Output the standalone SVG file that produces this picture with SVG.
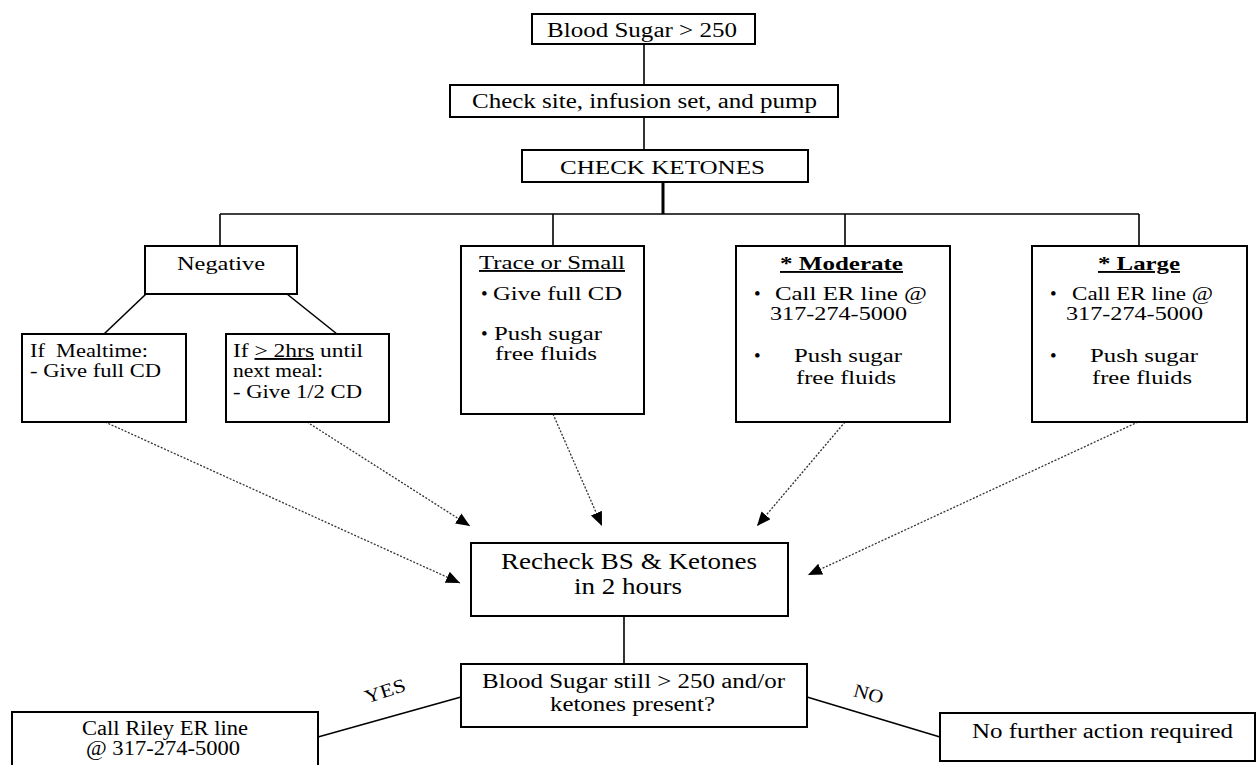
<svg xmlns="http://www.w3.org/2000/svg" width="1259" height="765" viewBox="0 0 1259 765">
<style>
  .box { fill: #ffffff; stroke: #000000; stroke-width: 2; }
  .t { font-family: "Liberation Serif", "Times New Roman", serif; fill: #000000; font-size: 20px; }
  .s { font-size: 19px; }
  .l { font-size: 23px; }
  .u { text-decoration: underline; }
  .b { font-weight: bold; }
  .solid { stroke: #000000; stroke-width: 1.6; fill: none; }
  .dot { stroke: #333333; stroke-width: 1.3; stroke-dasharray: 2 1.6; fill: none; }
</style>
<defs>
  <marker id="arr" markerUnits="userSpaceOnUse" markerWidth="16" markerHeight="14" refX="14" refY="6" orient="auto">
    <path d="M0,0 L14,6 L0,12 Z" fill="#000000"/>
  </marker>
</defs>
<rect width="1259" height="765" fill="#ffffff"/>

<g id="connectors">
  <line class="solid" x1="644" y1="44" x2="644" y2="85"/>
  <line class="solid" x1="644" y1="117" x2="644" y2="150"/>
  <line x1="663" y1="182" x2="663" y2="214" stroke="#000" stroke-width="3"/>
  <line class="solid" x1="220" y1="214" x2="1139" y2="214"/>
  <line class="solid" x1="220" y1="214" x2="220" y2="246"/>
  <line class="solid" x1="553" y1="214" x2="553" y2="246"/>
  <line class="solid" x1="845" y1="214" x2="845" y2="246"/>
  <line class="solid" x1="1139" y1="214" x2="1139" y2="246"/>
  <line class="solid" x1="146" y1="294" x2="104" y2="334"/>
  <line class="solid" x1="287" y1="294" x2="337" y2="334"/>
  <line class="dot" x1="105" y1="422" x2="460" y2="583" marker-end="url(#arr)"/>
  <line class="dot" x1="307" y1="422" x2="470" y2="526" marker-end="url(#arr)"/>
  <line class="dot" x1="553" y1="414" x2="602" y2="526" marker-end="url(#arr)"/>
  <line class="dot" x1="845" y1="422" x2="757" y2="526" marker-end="url(#arr)"/>
  <line class="dot" x1="1138" y1="422" x2="808" y2="575" marker-end="url(#arr)"/>
  <line class="solid" x1="624" y1="616" x2="624" y2="664"/>
  <line class="solid" x1="318" y1="737" x2="461" y2="697"/>
  <line class="solid" x1="807" y1="697" x2="940" y2="737"/>
  <text class="t s" transform="translate(387,697) rotate(-18)" text-anchor="middle" textLength="42" lengthAdjust="spacingAndGlyphs">YES</text>
  <text class="t s" transform="translate(867,700) rotate(15)" text-anchor="middle" textLength="30" lengthAdjust="spacingAndGlyphs">NO</text>
</g>

<g id="n-bs250">
  <rect class="box" x="532" y="14" width="223" height="30"/>
  <text class="t" x="547" y="37" textLength="190" lengthAdjust="spacingAndGlyphs">Blood Sugar &gt; 250</text>
</g>

<g id="n-checksite">
  <rect class="box" x="450" y="85" width="388" height="32"/>
  <text class="t" x="472" y="108" textLength="345" lengthAdjust="spacingAndGlyphs">Check site, infusion set, and pump</text>
</g>

<g id="n-ketones">
  <rect class="box" x="522" y="150" width="286" height="32"/>
  <text class="t s" x="560" y="174" textLength="205" lengthAdjust="spacingAndGlyphs">CHECK KETONES</text>
</g>

<g id="n-negative">
  <rect class="box" x="145" y="246" width="152" height="48"/>
  <text class="t s" x="177" y="270" textLength="88" lengthAdjust="spacingAndGlyphs">Negative</text>
</g>

<g id="n-mealtime">
  <rect class="box" x="22" y="334" width="164" height="88"/>
  <text class="t s" x="30" y="357" textLength="118" lengthAdjust="spacingAndGlyphs" xml:space="preserve">If  Mealtime:</text>
  <text class="t s" x="30" y="377" textLength="131" lengthAdjust="spacingAndGlyphs">- Give full CD</text>
</g>

<g id="n-2hrs">
  <rect class="box" x="226" y="334" width="163" height="88"/>
  <text class="t s" x="233" y="357" textLength="130" lengthAdjust="spacingAndGlyphs" xml:space="preserve">If <tspan class="u">&gt; 2hrs</tspan> until</text>
  <text class="t s" x="233" y="377" textLength="90" lengthAdjust="spacingAndGlyphs">next meal:</text>
  <text class="t s" x="233" y="398" textLength="129" lengthAdjust="spacingAndGlyphs">- Give 1/2 CD</text>
</g>

<g id="n-trace">
  <rect class="box" x="461" y="246" width="183" height="168"/>
  <text class="t s u" x="479" y="269" textLength="146" lengthAdjust="spacingAndGlyphs">Trace or Small</text>
  <text class="t s" x="481" y="300">•</text>
  <text class="t s" x="493" y="300" textLength="129" lengthAdjust="spacingAndGlyphs">Give full CD</text>
  <text class="t s" x="481" y="340">•</text>
  <text class="t s" x="494" y="340" textLength="108" lengthAdjust="spacingAndGlyphs">Push sugar</text>
  <text class="t s" x="495" y="360" textLength="102" lengthAdjust="spacingAndGlyphs">free fluids</text>
</g>

<g id="n-moderate">
  <rect class="box" x="736" y="246" width="214" height="176"/>
  <text class="t s b u" x="780" y="270" textLength="123" lengthAdjust="spacingAndGlyphs">* Moderate</text>
  <text class="t s" x="754" y="300">•</text>
  <text class="t s" x="775" y="300" textLength="152" lengthAdjust="spacingAndGlyphs">Call ER line @</text>
  <text class="t s" x="770" y="320" textLength="137" lengthAdjust="spacingAndGlyphs">317-274-5000</text>
  <text class="t s" x="754" y="362">•</text>
  <text class="t s" x="794" y="362" textLength="108" lengthAdjust="spacingAndGlyphs">Push sugar</text>
  <text class="t s" x="796" y="384" textLength="100" lengthAdjust="spacingAndGlyphs">free fluids</text>
</g>

<g id="n-large">
  <rect class="box" x="1032" y="246" width="215" height="176"/>
  <text class="t s b u" x="1098" y="270" textLength="82" lengthAdjust="spacingAndGlyphs">* Large</text>
  <text class="t s" x="1050" y="300">•</text>
  <text class="t s" x="1072" y="300" textLength="141" lengthAdjust="spacingAndGlyphs">Call ER line @</text>
  <text class="t s" x="1066" y="320" textLength="137" lengthAdjust="spacingAndGlyphs">317-274-5000</text>
  <text class="t s" x="1050" y="362">•</text>
  <text class="t s" x="1090" y="362" textLength="108" lengthAdjust="spacingAndGlyphs">Push sugar</text>
  <text class="t s" x="1092" y="384" textLength="100" lengthAdjust="spacingAndGlyphs">free fluids</text>
</g>

<g id="n-recheck">
  <rect class="box" x="471" y="543" width="317" height="73"/>
  <text class="t l" x="501" y="569" textLength="256" lengthAdjust="spacingAndGlyphs">Recheck BS &amp; Ketones</text>
  <text class="t l" x="574" y="594" textLength="108" lengthAdjust="spacingAndGlyphs">in 2 hours</text>
</g>

<g id="n-question">
  <rect class="box" x="461" y="664" width="346" height="63"/>
  <text class="t" x="482" y="688" textLength="303" lengthAdjust="spacingAndGlyphs">Blood Sugar still &gt; 250 and/or</text>
  <text class="t" x="550" y="711" textLength="165" lengthAdjust="spacingAndGlyphs">ketones present?</text>
</g>

<g id="n-callriley">
  <rect class="box" x="12" y="712" width="306" height="60"/>
  <text class="t" x="82" y="735" textLength="166" lengthAdjust="spacingAndGlyphs">Call Riley ER line</text>
  <text class="t" x="86" y="755" textLength="154" lengthAdjust="spacingAndGlyphs">@ 317-274-5000</text>
</g>

<g id="n-nofurther">
  <rect class="box" x="940" y="713" width="315" height="48"/>
  <text class="t" x="972" y="738" textLength="261" lengthAdjust="spacingAndGlyphs">No further action required</text>
</g>
</svg>
